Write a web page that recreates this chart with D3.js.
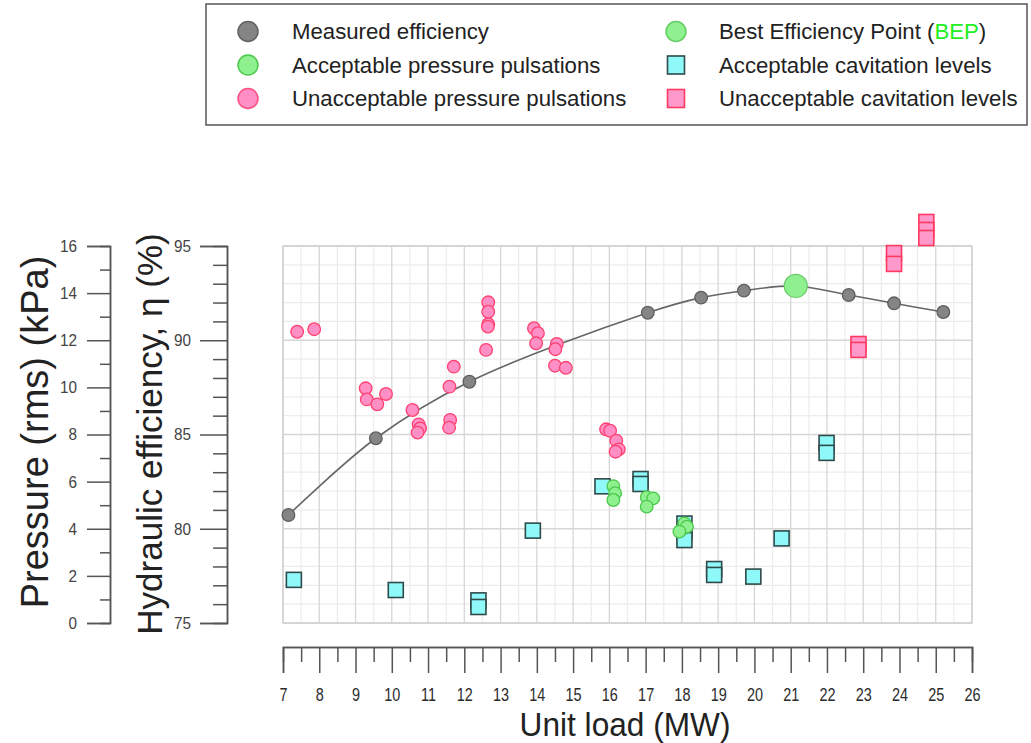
<!DOCTYPE html>
<html>
<head>
<meta charset="utf-8">
<script src="https://cdn.jsdelivr.net/npm/d3@7"></script>
<style>
  body { margin: 0; background: #fff; }
  svg { display: block; font-family: "Liberation Sans", Arial, sans-serif; }
</style>
</head>
<body>
<script>
// ---------- DATA ----------
const measuredLoad = [7.15, 9.56, 12.14, 17.06, 18.53, 19.71, 22.60, 23.85, 25.21];
const measuredEff  = [80.73, 84.80, 87.80, 91.46, 92.26, 92.63, 92.40, 91.96, 91.50];
const bepLoad = [21.14];
const bepEff  = [92.88];

const unaccPulsLoad = [7.39, 7.86, 9.28, 9.31, 9.60, 9.84, 10.57, 10.74, 10.78, 10.71, 11.59, 11.71, 11.61, 11.58,
  12.66, 12.66, 12.66, 12.65, 12.60, 13.92, 14.03, 13.98, 14.55, 14.51, 14.50, 14.80,
  15.91, 16.02, 16.19, 16.26, 16.17];
const unaccPulsP = [12.36, 12.47, 9.96, 9.49, 9.28, 9.72, 9.04, 8.43, 8.26, 8.08, 10.03, 10.88, 8.62, 8.29,
  13.61, 13.21, 12.68, 12.58, 11.59, 12.51, 12.30, 11.87, 11.84, 11.62, 10.92, 10.83,
  8.22, 8.16, 7.74, 7.37, 7.27];

const accPulsLoad = [16.11, 16.16, 16.11, 17.03, 17.21, 17.03, 18.00, 18.07, 18.14, 17.93];
const accPulsP    = [5.81, 5.51, 5.22, 5.34, 5.29, 4.94, 3.98, 4.23, 4.09, 3.88];

const accCavLoad = [7.30, 10.11, 12.39, 12.39, 13.89, 15.81, 16.86, 16.86, 18.07, 18.07, 18.07,
  18.89, 18.89, 19.97, 20.75, 21.99, 21.99];
const accCavP    = [1.83, 1.40, 0.96, 0.68, 3.92, 5.80, 6.11, 5.90, 4.22, 3.86, 3.52,
  2.29, 2.04, 1.97, 3.59, 7.64, 7.22];

const unaccCavLoad = [22.87, 22.87, 23.85, 23.85, 24.74, 24.74, 24.74];
const unaccCavP    = [11.84, 11.59, 15.70, 15.24, 17.02, 16.68, 16.34];

const xTicks = d3.range(7, 27, 1);
const xMinorTicks = d3.range(7.5, 26, 1);
const pTicks = d3.range(0, 17, 2);
const pMinorTicks = d3.range(1, 16, 2);
const eTicks = d3.range(75, 96, 5);
const eMinorTicks = d3.range(75, 96, 1).filter(v => v % 5 !== 0);

const legendItems = [
  {label: "Measured efficiency", shape: "circle", fill: "#858585", stroke: "#606060", col: 0, row: 0},
  {label: "Acceptable pressure pulsations", shape: "circle", fill: "#8ef08e", stroke: "#4cc94c", col: 0, row: 1},
  {label: "Unacceptable pressure pulsations", shape: "circle", fill: "#ff8fc4", stroke: "#ff4f7f", col: 0, row: 2},
  {label: "Best Efficiency Point (", extra: "BEP", tail: ")", shape: "circle", fill: "#8ef08e", stroke: "#66cc66", col: 1, row: 0},
  {label: "Acceptable cavitation levels", shape: "square", fill: "#8ff8f8", stroke: "#2f4a4a", col: 1, row: 1},
  {label: "Unacceptable cavitation levels", shape: "square", fill: "#ff99cc", stroke: "#ff3a60", col: 1, row: 2}
];

// ---------- LAYOUT ----------
const W = 1031, H = 743;
const plot = {l: 283, r: 972, t: 246, b: 623};

const svg = d3.select("body").append("svg").attr("width", W).attr("height", H);

const x = d3.scaleLinear().domain([7, 26]).range([plot.l, plot.r]);
const yP = d3.scaleLinear().domain([0, 16]).range([plot.b, plot.t]);
const yE = d3.scaleLinear().domain([75, 95]).range([plot.b, plot.t]);

// ---------- GRID ----------
const grid = svg.append("g");
grid.append("rect").attr("x", plot.l).attr("y", plot.t)
  .attr("width", plot.r - plot.l).attr("height", plot.b - plot.t)
  .attr("fill", "#fff");
grid.selectAll("line.vmin").data(xMinorTicks).join("line")
  .attr("x1", d => x(d)).attr("x2", d => x(d)).attr("y1", plot.t).attr("y2", plot.b)
  .attr("stroke", "#ececec").attr("stroke-width", 1.2);
grid.selectAll("line.hmin").data(eMinorTicks).join("line")
  .attr("y1", d => yE(d)).attr("y2", d => yE(d)).attr("x1", plot.l).attr("x2", plot.r)
  .attr("stroke", "#ececec").attr("stroke-width", 1.2);
grid.selectAll("line.vmaj").data(xTicks).join("line")
  .attr("x1", d => x(d)).attr("x2", d => x(d)).attr("y1", plot.t).attr("y2", plot.b)
  .attr("stroke", "#d6d6d6").attr("stroke-width", 1.3);
grid.selectAll("line.hmaj").data(eTicks).join("line")
  .attr("y1", d => yE(d)).attr("y2", d => yE(d)).attr("x1", plot.l).attr("x2", plot.r)
  .attr("stroke", "#d6d6d6").attr("stroke-width", 1.3);
grid.append("rect").attr("x", plot.l).attr("y", plot.t)
  .attr("width", plot.r - plot.l).attr("height", plot.b - plot.t)
  .attr("fill", "none").attr("stroke", "#d0d0d0").attr("stroke-width", 1.3);

// ---------- AXES ----------
function styleAxis(g) {
  g.selectAll("path.domain").attr("stroke", "#555").attr("stroke-width", 1.5);
  g.selectAll(".tick line").attr("stroke", "#555").attr("stroke-width", 1.5);
  g.selectAll(".tick text").attr("fill", "#444").style("font-size", "17px");
}

// Pressure axis
const pAxisX = 110;
svg.append("g").attr("transform", `translate(${pAxisX},0)`)
  .call(d3.axisLeft(yP).tickValues(pMinorTicks).tickSize(10).tickFormat(""))
  .call(styleAxis);
const pAx = svg.append("g").attr("transform", `translate(${pAxisX},0)`)
  .call(d3.axisLeft(yP).tickValues(pTicks).tickSize(23).tickPadding(10).tickFormat(d3.format("d")))
  .call(styleAxis);
pAx.selectAll(".tick text").attr("x", null)
  .attr("transform", "translate(-33,0) scale(0.9,1)");

// Efficiency axis
const eAxisX = 227;
svg.append("g").attr("transform", `translate(${eAxisX},0)`)
  .call(d3.axisLeft(yE).tickValues(eMinorTicks).tickSize(14).tickFormat(""))
  .call(styleAxis);
const eAx = svg.append("g").attr("transform", `translate(${eAxisX},0)`)
  .call(d3.axisLeft(yE).tickValues(eTicks).tickSize(27).tickPadding(9).tickFormat(d3.format("d")))
  .call(styleAxis);
eAx.selectAll(".tick text").attr("x", null)
  .attr("transform", "translate(-36,0) scale(0.9,1)");

// X axis
const xAxisY = 647;
svg.append("g").attr("transform", `translate(0,${xAxisY})`)
  .call(d3.axisBottom(x).tickValues(xMinorTicks).tickSize(15).tickFormat(""))
  .call(styleAxis);
const xAx = svg.append("g").attr("transform", `translate(0,${xAxisY})`)
  .call(d3.axisBottom(x).tickValues(xTicks).tickSize(26).tickPadding(15).tickFormat(d3.format("d")))
  .call(styleAxis);
xAx.selectAll(".tick text").style("font-size", "19px").attr("fill", "#2a2a2a")
  .attr("transform", "scale(0.76,1)");

// Axis titles
svg.append("text").attr("transform", "translate(48,432) rotate(-90)")
  .attr("text-anchor", "middle").attr("fill", "#222").style("font-size", "38px")
  .text("Pressure (rms) (kPa)");
svg.append("text").attr("transform", "translate(162,434) rotate(-90)")
  .attr("text-anchor", "middle").attr("fill", "#222").style("font-size", "35px")
  .text("Hydraulic efficiency, η (%)");
svg.append("text").attr("transform", "translate(625,736) scale(0.93,1)")
  .attr("text-anchor", "middle").attr("fill", "#222").style("font-size", "34px")
  .text("Unit load (MW)");

// ---------- MARKS ----------
const effPts = measuredLoad.map((d, i) => [d, measuredEff[i]])
  .concat(bepLoad.map((d, i) => [d, bepEff[i]]))
  .sort((a, b) => a[0] - b[0]);
svg.append("path").datum(effPts)
  .attr("d", d3.line().x(d => x(d[0])).y(d => yE(d[1])).curve(d3.curveCatmullRom.alpha(0.5)))
  .attr("fill", "none").attr("stroke", "#666").attr("stroke-width", 1.6);

svg.append("g").selectAll("circle").data(measuredLoad).join("circle")
  .attr("cx", d => x(d)).attr("cy", (d, i) => yE(measuredEff[i])).attr("r", 6.3)
  .attr("fill", "#858585").attr("stroke", "#5e5e5e").attr("stroke-width", 1.3);

svg.append("g").selectAll("circle").data(bepLoad).join("circle")
  .attr("cx", d => x(d)).attr("cy", (d, i) => yE(bepEff[i])).attr("r", 11.5)
  .attr("fill", "#8ef08e").attr("stroke", "#6ccc6c").attr("stroke-width", 1.3);

const sq = 15;
svg.append("g").selectAll("rect").data(accCavLoad).join("rect")
  .attr("x", d => x(d) - sq / 2).attr("y", (d, i) => yP(accCavP[i]) - sq / 2)
  .attr("width", sq).attr("height", sq)
  .attr("fill", "#8ff8f8").attr("stroke", "#2f4a4a").attr("stroke-width", 1.6);

svg.append("g").selectAll("rect").data(unaccCavLoad).join("rect")
  .attr("x", d => x(d) - sq / 2).attr("y", (d, i) => yP(unaccCavP[i]) - sq / 2)
  .attr("width", sq).attr("height", sq)
  .attr("fill", "#ff99cc").attr("stroke", "#ff3a60").attr("stroke-width", 1.6);

svg.append("g").selectAll("circle").data(unaccPulsLoad).join("circle")
  .attr("cx", d => x(d)).attr("cy", (d, i) => yP(unaccPulsP[i])).attr("r", 6.3)
  .attr("fill", "#ff8fc4").attr("stroke", "#ff4070").attr("stroke-width", 1.3);

svg.append("g").selectAll("circle").data(accPulsLoad).join("circle")
  .attr("cx", d => x(d)).attr("cy", (d, i) => yP(accPulsP[i])).attr("r", 6.3)
  .attr("fill", "#8ef08e").attr("stroke", "#4cc94c").attr("stroke-width", 1.3);

// ---------- LEGEND ----------
const lg = svg.append("g");
lg.append("rect").attr("x", 206).attr("y", 4).attr("width", 821).attr("height", 121)
  .attr("fill", "#fff").attr("stroke", "#555").attr("stroke-width", 1.5);
const colSym = [248, 676], colTxt = [292, 719], rowY = [31.5, 65, 98.5];
legendItems.forEach(it => {
  const cx = colSym[it.col], cy = rowY[it.row];
  if (it.shape === "circle") {
    lg.append("circle").attr("cx", cx).attr("cy", cy).attr("r", 10)
      .attr("fill", it.fill).attr("stroke", it.stroke).attr("stroke-width", 1.5);
  } else {
    lg.append("rect").attr("x", cx - 8.5).attr("y", cy - 9).attr("width", 17).attr("height", 18)
      .attr("fill", it.fill).attr("stroke", it.stroke).attr("stroke-width", 1.6);
  }
  const t = lg.append("text").attr("x", colTxt[it.col]).attr("y", cy).attr("dy", "0.36em")
    .attr("fill", "#222").style("font-size", "22.2px");
  t.append("tspan").text(it.label);
  if (it.extra) {
    t.append("tspan").attr("fill", "#22ee22").text(it.extra);
    t.append("tspan").text(it.tail);
  }
});
</script>
</body>
</html>
